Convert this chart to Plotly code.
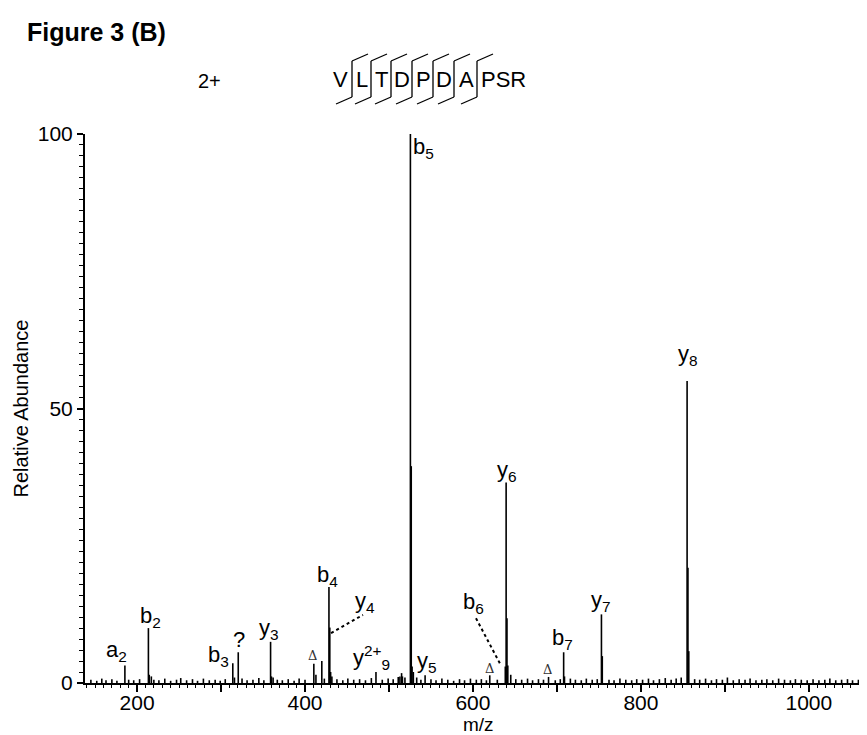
import plotly.graph_objects as go

# ---------------- data ----------------
peak_mz = [185.5, 213.5, 214.5, 314.0, 320.5, 359.0, 360.0, 410.5, 420.0, 428.5,
           429.5, 430.5, 484.5, 515.0, 516.0, 525.5, 526.5, 527.5, 543.0, 620.0,
           638.5, 639.5, 640.5, 641.5, 690.0, 708.0, 709.0, 753.0, 754.0, 855.0,
           856.0, 857.0]
peak_int = [3.2, 10.0, 1.5, 3.6, 5.6, 7.5, 1.2, 3.5, 4.0, 17.5,
            10.1, 2.0, 2.0, 1.8, 1.2, 100.0, 39.5, 3.0, 1.4, 1.4,
            3.0, 36.5, 11.8, 3.2, 1.1, 5.6, 1.2, 12.5, 4.9, 55.0,
            21.0, 5.8]

noise_mz = [145, 152, 158, 163, 170, 176, 190, 196, 203, 217, 220, 226, 233, 240,
            247, 252, 259, 266, 272, 279, 286, 293, 299, 305, 316, 325, 331, 338,
            345, 351, 362, 367, 373, 380, 387, 393, 400, 413, 423, 432, 438, 445,
            451, 458, 465, 472, 479, 492, 499, 505, 511, 513, 519, 529, 533, 538,
            550, 556, 563, 570, 577, 584, 590, 597, 604, 610, 616, 629, 645, 651,
            658, 665, 671, 678, 684, 698, 704, 716, 722, 729, 735, 742, 748, 762,
            768, 775, 782, 789, 795, 802, 809, 815, 822, 829, 836, 842, 848, 864,
            870, 877, 884, 890, 897, 903, 910, 917, 924, 930, 937, 944, 950, 957,
            964, 971, 978, 984, 991, 998, 1005, 1012, 1019, 1025, 1032, 1039, 1046,
            1052, 1059, 1066]
noise_int = [0.6, 0.4, 0.8, 0.5, 0.7, 0.4, 0.6, 0.5, 0.7, 1.2, 0.6, 0.5, 0.8, 0.4,
             0.6, 0.9, 0.5, 0.7, 0.4, 0.8, 0.5, 0.6, 0.4, 0.7, 1.0, 0.8, 0.5, 0.6,
             0.9, 0.5, 1.0, 0.6, 0.5, 0.7, 0.4, 0.8, 0.6, 1.5, 0.8, 1.2, 0.7, 0.5,
             0.8, 0.6, 0.7, 0.5, 0.9, 0.6, 0.8, 0.7, 1.1, 1.2, 1.0, 2.0, 1.0, 0.6,
             0.7, 0.5, 0.8, 0.6, 0.4, 0.7, 0.5, 0.8, 0.6, 0.7, 0.5, 0.6, 1.5, 0.7,
             0.6, 0.8, 0.5, 0.7, 0.6, 0.5, 0.7, 0.8, 0.6, 0.5, 0.8, 0.6, 0.7, 0.6,
             0.5, 0.8, 0.6, 0.5, 0.7, 0.6, 0.8, 0.5, 0.7, 0.9, 0.6, 0.8, 1.0, 0.7,
             0.6, 0.8, 0.5, 0.7, 0.6, 1.0, 0.5, 0.7, 0.6, 0.8, 0.5, 0.6, 0.7, 0.5,
             0.8, 0.6, 0.5, 0.7, 0.6, 0.5, 0.7, 0.5, 0.6, 0.8, 0.5, 0.6, 0.7,
             0.5, 0.6, 0.5]

ion_labels = ["a<sub>2</sub>", "b<sub>2</sub>", "b<sub>3</sub>", "?", "y<sub>3</sub>",
              "b<sub>4</sub>", "y<sub>4</sub>", "y<sup>2+</sup><sub>9</sub>", "b<sub>5</sub>",
              "y<sub>5</sub>", "b<sub>6</sub>", "y<sub>6</sub>", "b<sub>7</sub>",
              "y<sub>7</sub>", "y<sub>8</sub>"]
ion_label_mz = [176, 216, 297, 321, 357, 427, 472, 479, 541, 545, 601, 641, 707, 752, 856]
ion_label_int = [5.8, 12.0, 5.0, 8.0, 9.9, 19.5, 14.8, 4.6, 97.5, 3.9, 14.5, 38.7, 8.0, 14.9, 59.7]

delta_mz = [409, 620, 689]
delta_int = [5.1, 2.6, 2.5]

x_tick_vals = [200, 300, 400, 500, 600, 700, 800, 900, 1000]
x_tick_text = ["200", "", "400", "", "600", "", "800", "", "1000"]
y_tick_vals = [0, 50, 100]

sequence_letters = ["V", "L", "T", "D", "P", "D", "A", "PSR"]

# ---------------- layout geometry ----------------
W, H = 867, 735
ML, MR, MT, MB = 77, 4, 126, 60
PW, PH = W - ML - MR, H - MT - MB


def px(x):
    return (x - ML) / PW


def py(y):
    return (H - MB - y) / PH


# stick spectrum
xs, ys = [], []
for m, v in list(zip(noise_mz, noise_int)) + list(zip(peak_mz, peak_int)):
    xs += [m, m, None]
    ys += [0, v, None]

fig = go.Figure()
fig.add_trace(go.Scatter(x=xs, y=ys, mode="lines",
                         line=dict(color="black", width=1.6),
                         hoverinfo="skip", showlegend=False))

ann = []
FONT = "Liberation Sans, Arial, sans-serif"
for t, xm, yv in zip(ion_labels, ion_label_mz, ion_label_int):
    ann.append(dict(x=xm, y=yv, xref="x", yref="y", text=t, showarrow=False,
                    font=dict(size=22, color="black", family=FONT),
                    xanchor="center", yanchor="middle"))
for xm, yv in zip(delta_mz, delta_int):
    ann.append(dict(x=xm, y=yv, xref="x", yref="y", text="Δ", showarrow=False,
                    font=dict(size=13, color="#333", family="DejaVu Serif"),
                    xanchor="center", yanchor="middle"))

# title and charge state
ann.append(dict(x=px(17), y=py(24), xref="paper", yref="paper", text="<b>Figure 3 (B)</b>",
                showarrow=False, xanchor="left", yanchor="middle",
                font=dict(size=25, color="black", family=FONT)))
ann.append(dict(x=px(201), y=py(73), xref="paper", yref="paper", text="2+",
                showarrow=False, xanchor="center", yanchor="middle",
                font=dict(size=20, color="black", family=FONT)))

# x-axis title
ann.append(dict(x=0.5, y=py(716), xref="paper", yref="paper", text="m/z",
                showarrow=False, xanchor="center", yanchor="middle",
                font=dict(size=19, color="black", family=FONT)))

# peptide sequence
letter_px = [332, 354, 373, 394, 415, 436, 458, 495]
for L, xp in zip(sequence_letters, letter_px):
    ann.append(dict(x=px(xp), y=py(72), xref="paper", yref="paper", text=L,
                    showarrow=False, xanchor="center", yanchor="middle",
                    font=dict(size=22, color="black", family=FONT)))

shapes = []
cut_px = [344, 363, 383, 404, 425, 446, 469]
for c in cut_px:
    shapes.append(dict(type="line", xref="paper", yref="paper",
                       x0=px(c), x1=px(c), y0=py(53), y1=py(89),
                       line=dict(color="black", width=1.3)))
    shapes.append(dict(type="line", xref="paper", yref="paper",
                       x0=px(c), x1=px(c + 16), y0=py(53), y1=py(46),
                       line=dict(color="black", width=1.3)))
    shapes.append(dict(type="line", xref="paper", yref="paper",
                       x0=px(c), x1=px(c - 16), y0=py(89), y1=py(96),
                       line=dict(color="black", width=1.3)))

# dotted leader lines
shapes.append(dict(type="line", xref="x", yref="y", x0=431, y0=9.1, x1=469, y1=12.4,
                   line=dict(color="black", width=2, dash="dot")))
shapes.append(dict(type="line", xref="x", yref="y", x0=603.6, y0=11.8, x1=633, y1=3.3,
                   line=dict(color="black", width=2, dash="dot")))

fig.update_layout(
    width=W, height=H,
    margin=dict(l=ML, r=MR, t=MT, b=MB),
    plot_bgcolor="white", paper_bgcolor="white",
    font=dict(family=FONT, color="black"),
    annotations=ann, shapes=shapes,
    xaxis=dict(range=[138, 1074], showline=True, linecolor="black", linewidth=2,
               showgrid=False, zeroline=False,
               tickvals=x_tick_vals, ticktext=x_tick_text,
               ticks="outside", ticklen=7, tickwidth=1.5, tickcolor="black",
               ticklabelstandoff=-7,
               minor=dict(dtick=10, tick0=0, ticks="outside", ticklen=3,
                          tickwidth=1, tickcolor="black"),
               tickfont=dict(size=21, family=FONT)),
    yaxis=dict(range=[0, 100], showline=True, linecolor="black", linewidth=2,
               showgrid=False, zeroline=False,
               tickvals=y_tick_vals, ticks="outside", ticklen=6, tickwidth=1.5,
               tickcolor="black",
               minor=dict(dtick=2, tick0=0, ticks="outside", ticklen=4,
                          tickwidth=1, tickcolor="black"),
               tickfont=dict(size=21, family=FONT),
               title=dict(text="Relative Abundance", font=dict(size=20, family=FONT),
                          standoff=4)),
)

fig.write_html("out.html")
